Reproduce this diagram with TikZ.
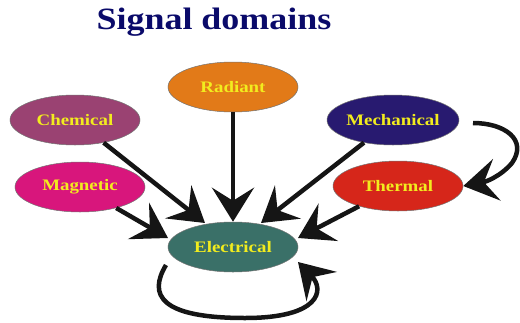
\documentclass[tikz,border=0pt]{standalone}
\usepackage{fontspec}
\setmainfont{Liberation Serif}
\newfontfamily\widefont[FakeStretch=1.18]{Liberation Serif}
\newfontfamily\titlefont[FakeStretch=1.16]{Liberation Serif}
\usetikzlibrary{shapes.geometric,arrows.meta}
\definecolor{titleblue}{HTML}{0A0A6A}
\definecolor{labyellow}{HTML}{F2EC1E}
\definecolor{cradiant}{HTML}{E27A18}
\definecolor{cchem}{HTML}{9A4272}
\definecolor{cmech}{HTML}{281A70}
\definecolor{cmag}{HTML}{D8167C}
\definecolor{ctherm}{HTML}{D6261A}
\definecolor{celec}{HTML}{3A7068}
\definecolor{arr}{HTML}{151515}
\tikzset{bighead/.tip={Stealth[length=34pt,width=42pt,inset=13pt]}}
\begin{document}
\begin{tikzpicture}[x=1pt,y=-1pt,
  dom/.style={ellipse, draw=black!55, line width=0.5pt, minimum width=130pt, minimum height=50pt,
    inner sep=0pt, font=\widefont\bfseries\fontsize{16}{18}\selectfont, text=labyellow},
  flow/.style={draw=arr, line width=4.5pt, -bighead}]
\useasboundingbox (0,0) rectangle (520,322);
\node[font=\titlefont\bfseries\fontsize{31}{36}\selectfont, text=titleblue] (title) at (214,22) {Signal domains};
\node[dom, fill=cradiant] (rad) at (233,87) {Radiant};
\node[dom, fill=cchem] (chem) at (75,120) {Chemical};
\node[dom, fill=cmech] (mech) at (393,120) {Mechanical};
\node[dom, fill=cmag] (mag) at (80,187) {Magnetic};
\node[dom, fill=ctherm] (therm) at (398,186) {Thermal};
\node[dom, fill=celec] (elec) at (233,247) {Electrical};
\coordinate (e1) at (205,223);
\coordinate (e3) at (261,223);
\coordinate (e4) at (168,238);
\coordinate (e5) at (298,238);
\draw[flow] (chem) -- (e1);
\draw[flow] (rad) -- (elec);
\draw[flow] (mech) -- (e3);
\draw[flow] (mag) -- (e4);
\draw[flow] (therm) -- (e5);
\coordinate (ms) at (473,123);
\draw[flow] (ms) .. controls (505,123) and (528,140) .. (512,163) .. controls (500,177) and (485,182) .. (therm.east);
\coordinate (ls) at (166,265);
\coordinate (le) at (298,262);
\draw[flow] (ls) .. controls (148,295) and (160,318) .. (245,318) .. controls (320,318) and (325,290) .. (le);
\end{tikzpicture}
\end{document}
